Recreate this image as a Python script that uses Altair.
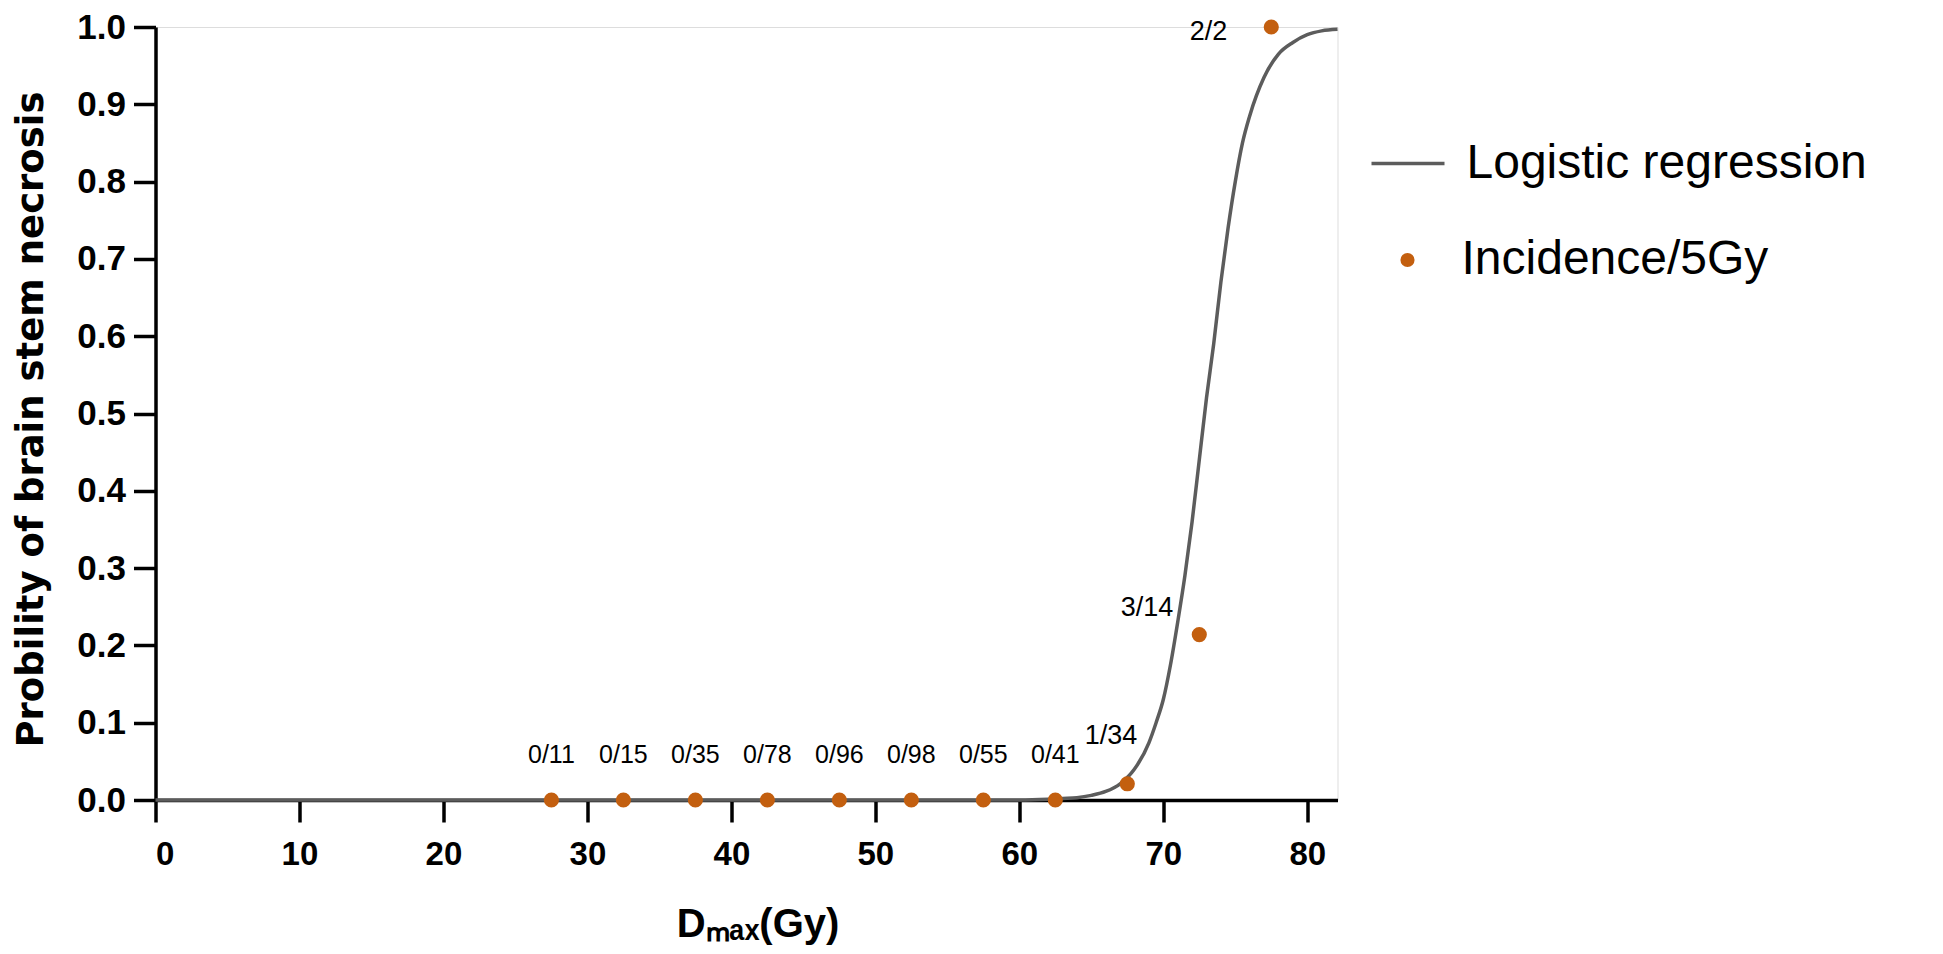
import altair as alt
import pandas as pd

# ---- data ----
dose = [27.5, 32.5, 37.5, 42.5, 47.5, 52.5, 57.5, 62.5, 67.5, 72.5, 77.5]
incidence = [0, 0, 0, 0, 0, 0, 0, 0, 0.021, 0.214, 1.0]
labels = ["0/11", "0/15", "0/35", "0/78", "0/96", "0/98", "0/55", "0/41", "1/34", "3/14", "2/2"]

curve_dose = [0, 60, 62, 63, 64, 65, 66, 67, 68, 69, 69.5, 70, 70.5, 71, 71.5, 72, 72.5,
              73, 73.5, 74, 74.5, 75, 75.5, 76, 77, 78, 79, 80, 81, 82.1]
curve_prob = [0, 0, 0.001, 0.002, 0.003, 0.006, 0.011, 0.021, 0.04, 0.074, 0.1, 0.13, 0.175,
              0.23, 0.29, 0.36, 0.44, 0.52, 0.59, 0.67, 0.74, 0.8, 0.85, 0.885, 0.935, 0.965,
              0.98, 0.99, 0.995, 0.997]

x_ticks = [0, 10, 20, 30, 40, 50, 60, 70, 80]
y_ticks = [0, 0.1, 0.2, 0.3, 0.4, 0.5, 0.6, 0.7, 0.8, 0.9, 1.0]

pts = pd.DataFrame({"dose": dose, "prob": incidence, "label": labels,
                    "pseries": ["Incidence/5Gy"] * len(dose)})
curve = pd.DataFrame({"dose": curve_dose, "prob": curve_prob,
                      "lseries": ["Logistic regression"] * len(curve_dose)})

ORANGE = "#C35F0F"
GRAY = "#5c5c5c"
W, H = 1182, 773

x_enc = alt.X("dose:Q", scale=alt.Scale(domain=[0, 82.1], nice=False, zero=True),
              axis=alt.Axis(values=x_ticks, title="Dₘₐₓ(Gy)", grid=False,
                            domainColor="black", domainWidth=3.5, tickColor="black",
                            tickWidth=3.5, tickSize=22, labelFontSize=33,
                            labelFont="Liberation Sans", labelFontWeight="bold",
                            labelColor="black", labelPadding=16,
                            titleFont="Liberation Sans", titleFontSize=40,
                            titleFontWeight="bold", titleColor="black",
                            titleX=602, titleY=124, titleBaseline="middle"))
y_enc = alt.Y("prob:Q", scale=alt.Scale(domain=[0, 1], nice=False),
              axis=alt.Axis(values=y_ticks, format=".1f", title="Probility of brain stem necrosis",
                            grid=False, domainColor="black", domainWidth=3.5,
                            tickColor="black", tickWidth=3.5, tickSize=22,
                            labelFontSize=35, labelFont="Liberation Sans",
                            labelFontWeight="bold", labelColor="black", labelPadding=8,
                            titleFont="DejaVu Sans", titleFontSize=37,
                            titleFontWeight="bold", titleColor="black",
                            titleX=-124, titleY=392, titleBaseline="middle",
                            titleAlign="center", titleAngle=270))

line = alt.Chart(curve).mark_line(interpolate="monotone", strokeWidth=3.5).encode(
    x=x_enc, y=y_enc,
    stroke=alt.Stroke("lseries:N",
                      scale=alt.Scale(domain=["Logistic regression"], range=[GRAY]),
                      legend=alt.Legend(title=None, orient="none", legendX=1214, legendY=98,
                                        padding=0, symbolType="stroke", symbolSize=5329,
                                        symbolStrokeWidth=3.5, labelFontSize=48,
                                        labelFont="Liberation Sans", labelColor="black",
                                        labelOffset=20, labelLimit=600)))

points = alt.Chart(pts).mark_circle(size=230, opacity=1).encode(
    x=x_enc, y=y_enc,
    fill=alt.Fill("pseries:N",
                  scale=alt.Scale(domain=["Incidence/5Gy"], range=[ORANGE]),
                  legend=alt.Legend(title=None, orient="none", legendX=1228, legendY=209,
                                    padding=0, symbolType="circle", symbolSize=200,
                                    symbolStrokeWidth=0, labelFontSize=48,
                                    labelFont="Liberation Sans", labelColor="black",
                                    labelOffset=30, labelLimit=600)))

base_txt = alt.Chart(pts)
zero_txt = base_txt.transform_filter("datum.prob == 0").mark_text(
    dy=-45, fontSize=25, font="Liberation Sans", color="black").encode(
    x=x_enc, y=y_enc, text="label:N")
t1 = base_txt.transform_filter("datum.label == '1/34'").mark_text(
    align="right", dx=10, dy=-48, fontSize=27, font="Liberation Sans", color="black").encode(
    x=x_enc, y=y_enc, text="label:N")
t2 = base_txt.transform_filter("datum.label == '3/14'").mark_text(
    align="right", dx=-26, dy=-27, fontSize=27, font="Liberation Sans", color="black").encode(
    x=x_enc, y=y_enc, text="label:N")
t3 = base_txt.transform_filter("datum.label == '2/2'").mark_text(
    align="right", dx=-44, dy=5, fontSize=27, font="Liberation Sans", color="black").encode(
    x=x_enc, y=y_enc, text="label:N")

chart = alt.layer(line, points, zero_txt, t1, t2, t3).properties(
    width=W, height=H,
    autosize=alt.AutoSizeParams(type="none"),
    padding={"left": 147.5, "top": 19, "right": 597, "bottom": 146},
).configure_view(stroke=None).configure(background="white")

chart.save("out.html", embed_options={"renderer": "svg", "actions": False})
